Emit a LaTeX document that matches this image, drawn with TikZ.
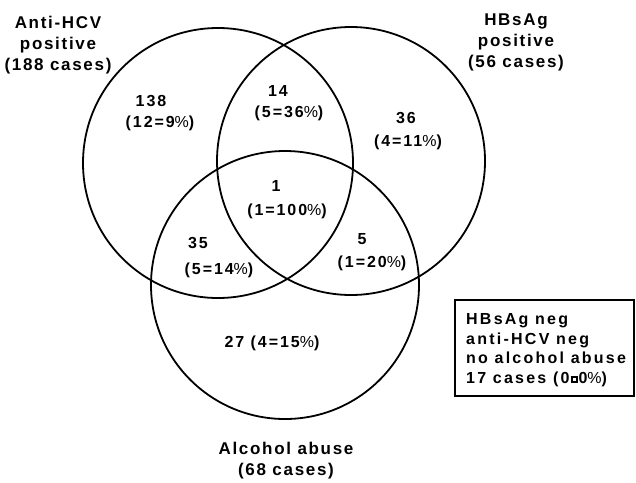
\documentclass[tikz,border=0pt]{standalone}
\usepackage{fontspec}
\setmainfont{Liberation Sans}[LetterSpace=10]
\newfontfamily\boxfont{Liberation Sans}[LetterSpace=14]
\newfontfamily\numfont{Liberation Sans}[LetterSpace=12]
\newcommand{\pc}{{\mdseries\%}}
\newcommand{\sq}{\hspace{1pt}\raisebox{2.5pt}{\setlength{\fboxsep}{0pt}\setlength{\fboxrule}{2pt}\fbox{\rule{0pt}{3pt}\hspace{3pt}}}\hspace{1pt}}
\begin{document}
\begin{tikzpicture}[x=1pt,y=-1pt,
  setc/.style={circle,draw,line width=1.8pt,inner sep=0pt},
  lab/.style={font=\fontsize{17}{21}\selectfont\bfseries,align=center,inner sep=0pt},
  num/.style={font=\numfont\fontsize{16}{20}\selectfont\bfseries,inner sep=0pt},
  legbox/.style={draw,line width=1.8pt,inner sep=0pt}]
\useasboundingbox (0,0) rectangle (636,482);
\node[setc,minimum size=270pt] (L) at (218,163) {};
\node[setc,minimum size=268pt] (R) at (351,161) {};
\node[setc,minimum size=268pt] (B) at (285,285) {};
\node[lab] (labL) at (58,45) {Anti-HCV\\positive\\(188 cases)};
\node[lab] (labR) at (516,42) {HBsAg\\positive\\(56 cases)};
\node[lab] (labB) at (286,461) {Alcohol abuse\\(68 cases)};
\node[num] (n1) at (151,101) {138};
\node[num] (p1) at (160,123) {(12=9\pc)};
\node[num] (n2) at (278,91) {14};
\node[num] (p2) at (289,113) {(5=36\pc)};
\node[num] (n3) at (406,118) {36};
\node[num] (p3) at (408,142) {(4=11\pc)};
\node[num] (n4) at (276,186) {1};
\node[num] (p4) at (287,211) {(1=100\pc)};
\node[num] (n5) at (198,243) {35};
\node[num] (p5) at (219,270) {(5=14\pc)};
\node[num] (n6) at (362,239) {5};
\node[num] (p6) at (372,263) {(1=20\pc)};
\node[num] (n7) at (272,343) {27 (4=15\pc)};
\node[legbox,minimum width=179pt,minimum height=96pt] (box) at (544.5,348) {};
\node[inner sep=0pt,align=left,anchor=west,font=\boxfont\fontsize{16}{19.7}\selectfont\bfseries] (boxt) at (466,350)
  {HBsAg neg\\anti-HCV neg\\no alcohol abuse\\17 cases (0\sq0\pc)};
\end{tikzpicture}
\end{document}
